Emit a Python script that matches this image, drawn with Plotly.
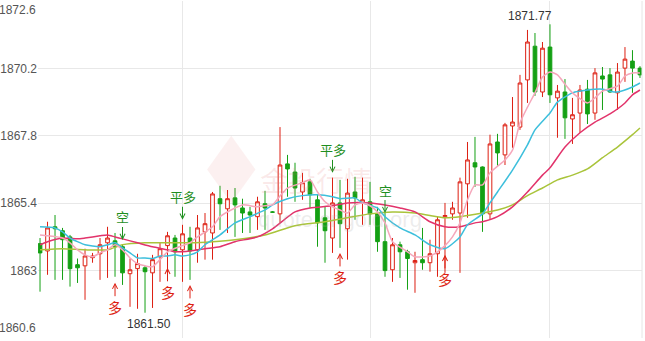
import plotly.graph_objects as go

# ---------------- data ----------------
open_ = [1863.96,1863.70,1864.56,1864.42,1864.20,1863.21,1863.17,1863.46,1863.60,1863.99,
         1864.06,1863.85,1862.89,1863.07,1863.10,1862.92,1863.49,1863.89,1864.16,1863.74,
         1864.16,1863.74,1864.38,1864.34,1865.56,1865.20,1865.59,1865.23,1865.09,1864.92,
         1865.38,1865.09,1865.02,1866.80,1866.51,1865.80,1866.16,1865.52,1864.88,1864.16,
         1865.41,1864.49,1865.80,1865.41,1865.45,1865.02,1864.03,1863.03,1863.92,1863.67,
         1863.28,1863.39,1863.28,1863.60,1864.92,1865.02,1865.05,1866.09,1866.84,1866.69,
         1865.02,1867.58,1867.12,1868.15,1868.11,1869.79,1870.99,1869.36,1870.96,1869.15,
         1869.36,1868.40,1868.61,1869.46,1868.61,1869.93,1869.97,1869.33,1870.21,1870.46,
         1870.21]
high = [1864.16,1864.74,1864.98,1864.52,1864.27,1863.43,1863.78,1863.63,1864.16,1864.56,
        1864.34,1863.92,1863.43,1863.60,1863.17,1863.56,1863.99,1864.38,1864.27,1864.63,
        1864.56,1864.98,1865.05,1865.80,1866.02,1865.87,1865.94,1865.56,1865.27,1865.63,
        1865.84,1865.12,1868.11,1867.12,1866.84,1866.48,1866.27,1865.70,1865.27,1866.31,
        1866.23,1866.27,1866.34,1866.31,1866.16,1865.27,1865.05,1864.16,1864.03,1863.74,
        1863.67,1864.52,1864.10,1864.92,1865.41,1865.45,1866.31,1867.58,1867.76,1866.71,
        1867.84,1867.87,1868.26,1869.18,1869.97,1871.57,1871.46,1871.14,1871.77,1869.61,
        1869.82,1869.15,1869.61,1869.79,1870.21,1870.25,1870.21,1870.39,1870.96,1870.85,
        1870.28]
low = [1862.25,1862.85,1862.67,1862.67,1862.43,1862.56,1861.96,1863.28,1862.67,1862.74,
       1862.78,1862.49,1861.71,1861.64,1861.50,1861.67,1862.60,1862.74,1862.78,1862.60,
       1862.67,1863.28,1863.39,1863.39,1864.45,1864.34,1864.20,1864.34,1864.34,1864.45,
       1864.45,1865.06,1864.70,1865.63,1865.45,1865.52,1865.23,1863.85,1863.28,1863.63,
       1863.81,1863.39,1864.81,1864.63,1864.63,1863.67,1862.78,1862.60,1862.74,1862.32,
       1862.21,1863.03,1862.96,1862.78,1862.92,1864.81,1862.92,1864.88,1865.98,1864.38,
       1864.81,1866.73,1866.76,1867.37,1868.01,1868.97,1869.22,1869.18,1868.97,1867.73,
       1867.69,1867.51,1867.91,1868.22,1868.37,1868.72,1869.33,1868.72,1869.72,1869.33,
       1869.86]
close = [1863.63,1864.52,1864.49,1864.10,1863.07,1863.10,1863.52,1863.52,1863.92,1864.16,
         1863.85,1862.92,1863.03,1863.25,1862.96,1863.39,1863.78,1864.24,1863.67,1864.31,
         1863.70,1864.52,1864.67,1865.73,1865.38,1865.56,1865.34,1865.05,1864.98,1865.45,
         1865.23,1865.08,1866.76,1866.62,1865.94,1866.13,1865.70,1864.70,1864.42,1865.41,
         1864.67,1865.76,1865.59,1865.52,1865.02,1864.03,1863.00,1863.92,1863.67,1863.43,
         1863.36,1863.28,1863.60,1864.81,1864.96,1865.23,1866.16,1866.94,1866.69,1865.02,
         1867.51,1867.19,1868.19,1868.29,1869.68,1871.14,1869.36,1870.92,1869.26,1869.39,
         1868.44,1868.55,1869.43,1868.58,1870.04,1869.82,1869.36,1870.07,1870.53,1870.21,
         1869.97]
bars = list(range(len(open_)))

# moving-average lines (candle index, price)
ma5_idx = [0,1,3,4,5,6,7,8,9,10,11,12,13,14,15,16,17,19,20,21,23,24,26,27,29,30,31,32,33,35,
           36,37,38,39,40,41,42,43,44,45,46,47,49,50,52,53,54,55,56,57,58,59,60,62,63,64,65,66,67,68,
           69,70,71,73,74,75,77,78,79,80]
ma5_val = [1864.27,1864.24,1864.16,1863.99,1863.74,1863.56,1863.49,1863.63,1863.74,1863.92,
           1863.74,1863.45,1863.25,1863.17,1863.14,1863.39,1863.67,1863.89,1863.99,1864.20,
           1864.56,1864.92,1865.23,1865.34,1865.27,1865.31,1865.34,1865.66,1865.94,1866.13,
           1866.23,1865.80,1865.45,1865.27,1865.16,1865.05,1865.34,1865.41,1865.31,1865.09,
           1864.70,1864.03,1863.67,1863.49,1863.52,1863.67,1863.89,1864.20,1864.70,1865.52,
           1866.05,1866.05,1866.48,1866.94,1867.29,1868.26,1868.82,1869.33,1869.89,1870.07,
           1869.97,1869.64,1869.33,1868.97,1869.15,1869.39,1869.57,1869.93,1870.04,1870.04]
ma10_idx = [0,2,3,4,5,6,8,9,10,11,12,13,14,15,16,17,18,19,20,21,22,24,26,28,30,31,33,35,37,39,
            40,42,43,45,46,48,50,52,54,56,57,59,60,61,63,65,66,68,69,71,73,75,76,77,79,80]
ma10_val = [1864.56,1864.52,1864.38,1864.16,1864.03,1863.92,1863.85,1863.92,1863.99,1863.81,
            1863.63,1863.45,1863.45,1863.43,1863.52,1863.52,1863.56,1863.52,1863.56,1863.67,
            1863.92,1864.27,1864.70,1864.92,1865.16,1865.34,1865.56,1865.67,1865.70,1865.63,
            1865.56,1865.59,1865.41,1865.23,1864.92,1864.52,1864.27,1863.92,1863.78,1864.20,
            1864.63,1865.02,1865.41,1865.80,1866.58,1867.48,1868.01,1868.61,1869.00,1869.33,
            1869.43,1869.46,1869.39,1869.36,1869.54,1869.68]
ma20_idx = [0,1,3,5,6,8,9,10,11,13,15,17,18,20,22,24,26,29,31,34,36,39,41,44,46,48,50,52,54,56,
            58,59,61,63,65,67,68,70,72,74,76,78,79,80]
ma20_val = [1863.92,1864.03,1864.16,1864.13,1864.16,1864.24,1864.27,1864.20,1864.13,1863.99,
            1863.85,1863.74,1863.67,1863.70,1863.78,1863.85,1864.03,1864.20,1864.49,1865.09,
            1865.23,1865.31,1865.41,1865.41,1865.34,1865.23,1865.09,1864.74,1864.56,1864.56,
            1864.70,1864.74,1864.92,1865.27,1865.80,1866.40,1866.66,1867.40,1867.91,1868.29,
            1868.58,1868.97,1869.26,1869.43]
ma30_idx = [0,3,6,9,11,14,17,20,23,26,30,34,38,41,44,47,50,52,54,56,59,61,63,65,67,69,71,73,75,77,
            79,80]
ma30_val = [1863.74,1863.78,1863.74,1863.74,1863.92,1863.99,1863.99,1863.99,1864.03,1864.10,
            1864.27,1864.60,1864.74,1864.88,1865.02,1865.09,1865.05,1864.96,1864.88,1864.92,
            1865.05,1865.16,1865.34,1865.67,1865.94,1866.23,1866.40,1866.62,1867.02,1867.40,
            1867.84,1868.08]

# trading signals: candle index and the price the arrow points at
long_idx = [10, 17, 20, 40, 54]
long_px = [1862.57, 1863.10, 1862.49, 1863.63, 1863.56]
short_idx = [11, 46]
short_px = [1864.09, 1865.05]
closelong_idx = [19, 39]
closelong_px = [1864.81, 1866.48]

ytick_vals = [1860.6, 1863.0, 1865.4, 1867.8, 1870.2, 1872.6]
ytick_text = ["1860.6", "1863", "1865.4", "1867.8", "1870.2", "1872.6"]
vgrid_idx = [19, 44, 68]

RED = "#dd1f12"
GREEN = "#14a014"
SIG_GREEN = "#1f8f1f"

fig = go.Figure()
fig.add_trace(go.Candlestick(
    x=bars, open=open_, high=high, low=low, close=close,
    increasing=dict(line=dict(color=RED, width=1), fillcolor="#ffffff"),
    decreasing=dict(line=dict(color=GREEN, width=1), fillcolor=GREEN),
    whiskerwidth=0, hoverinfo="skip", showlegend=False))

for xs, ys, col in [(ma30_idx, ma30_val, "#a9c43a"),
                    (ma20_idx, ma20_val, "#e2336b"),
                    (ma10_idx, ma10_val, "#3dbfdc"),
                    (ma5_idx, ma5_val, "#f5a7bb")]:
    fig.add_trace(go.Scatter(x=xs, y=ys, mode="lines",
                             line=dict(color=col, width=1.5, shape="spline", smoothing=0.6),
                             hoverinfo="skip", showlegend=False))

ann = []
CJK = "Noto Sans CJK SC"
for i, p in zip(long_idx, long_px):
    ann.append(dict(x=i, y=p, text="多", showarrow=True, ax=0, ay=24,
                    arrowhead=5, arrowsize=1, arrowwidth=1, arrowcolor=RED,
                    font=dict(family=CJK, size=14, color=RED), borderpad=0))
for i, p in zip(short_idx, short_px):
    ann.append(dict(x=i, y=p, text="空", showarrow=True, ax=0, ay=-23,
                    arrowhead=5, arrowsize=1, arrowwidth=1, arrowcolor=SIG_GREEN,
                    font=dict(family=CJK, size=13, color=SIG_GREEN), borderpad=0))
for i, p in zip(closelong_idx, closelong_px):
    ann.append(dict(x=i, y=p, text="平多", showarrow=True, ax=0, ay=-23,
                    arrowhead=5, arrowsize=1, arrowwidth=1, arrowcolor=SIG_GREEN,
                    font=dict(family=CJK, size=13, color=SIG_GREEN), borderpad=0))

# max / min labels
imax = high.index(max(high))
imin = low.index(min(low))
ann.append(dict(x=imax, y=high[imax], text=f"{high[imax]:.2f}", showarrow=False,
                xanchor="right", yanchor="bottom", xshift=4, yshift=-1,
                font=dict(family="Liberation Sans, Arial", size=12, color="#333333")))
ann.append(dict(x=imin, y=low[imin], text=f"{low[imin]:.2f}", showarrow=False,
                xanchor="center", yanchor="top", xshift=4, yshift=-2,
                font=dict(family="Liberation Sans, Arial", size=12, color="#333333")))

# top / bottom axis labels kept inside the figure
ann.append(dict(xref="paper", x=0, y=ytick_vals[-1], text=ytick_text[-1], showarrow=False,
                xanchor="right", yanchor="top", xshift=-1, yshift=-1, borderpad=0,
                font=dict(family="Liberation Sans, Arial", size=12, color="#555555")))
ann.append(dict(xref="paper", x=0, y=ytick_vals[0], text=ytick_text[0], showarrow=False,
                xanchor="right", yanchor="bottom", xshift=-1, yshift=2, borderpad=0,
                font=dict(family="Liberation Sans, Arial", size=12, color="#555555")))

# watermark
ann.append(dict(xref="paper", yref="paper", x=0.46, y=0.47, text="金投行情", showarrow=False,
                font=dict(family=CJK, size=28, color="rgba(225,120,120,0.16)")))
ann.append(dict(xref="paper", yref="paper", x=0.50, y=0.31, text="quote.cngold.org", showarrow=False,
                font=dict(family="Liberation Sans, Arial", size=22, color="rgba(170,170,170,0.22)")))

mid_text = [t if 0 < k < len(ytick_text) - 1 else "" for k, t in enumerate(ytick_text)]

fig.update_layout(
    width=645, height=341,
    margin=dict(l=38, r=3, t=1, b=3),
    paper_bgcolor="#ffffff", plot_bgcolor="#ffffff",
    annotations=ann,
    shapes=[dict(type="line", xref="paper", yref="paper", x0=1, x1=1, y0=0, y1=1,
                 line=dict(color="#e6e6e6", width=1)),
            dict(type="path", xref="paper", yref="paper",
                 path="M 0.28,0.50 L 0.32,0.60 L 0.36,0.50 L 0.32,0.40 Z",
                 fillcolor="rgba(225,110,110,0.10)", line=dict(width=0))],
    xaxis=dict(range=[-0.27, 80.27], tickvals=vgrid_idx, showticklabels=False,
               showgrid=True, gridcolor="#e8e8e8", gridwidth=1, zeroline=False,
               showline=False, ticks="", rangeslider=dict(visible=False), fixedrange=True),
    yaxis=dict(range=[ytick_vals[0], ytick_vals[-1]], tickvals=ytick_vals, ticktext=mid_text,
               showgrid=True, gridcolor="#e8e8e8", gridwidth=1, zeroline=False,
               showline=False, ticks="", fixedrange=True,
               tickfont=dict(family="Liberation Sans, Arial", size=12, color="#555555")),
)

fig.write_html("out.html")
